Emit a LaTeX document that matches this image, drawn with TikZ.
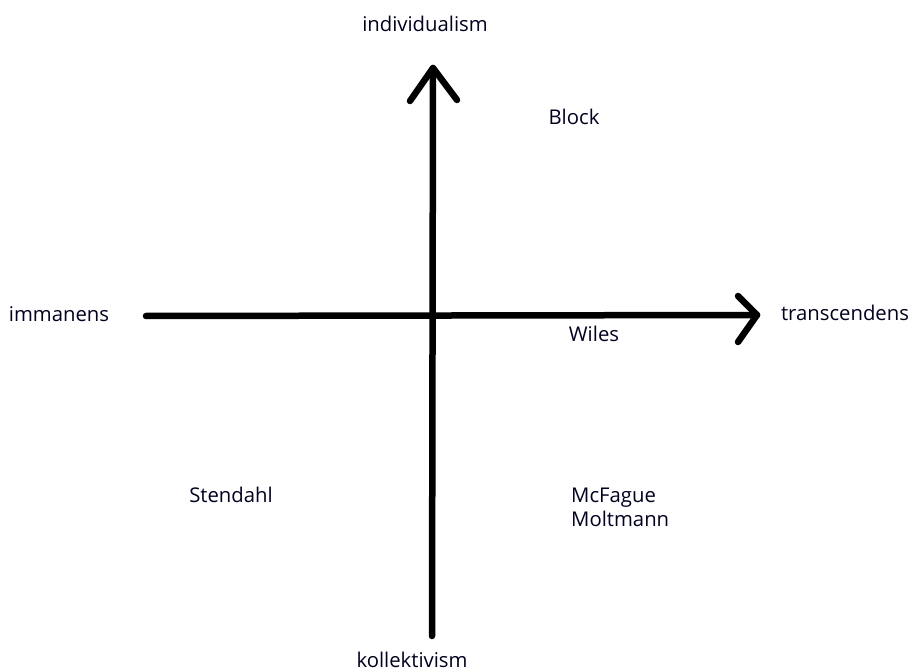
\documentclass[tikz,border=0pt]{standalone}
\usepackage{fontspec}
\setmainfont{Open Sans}
\begin{document}
\begin{tikzpicture}[x=1pt,y=-1pt,
  axis/.style={line width=6.5pt,line cap=round,line join=round,black},
  lbl/.style={font=\fontsize{20.3}{25}\selectfont,text=black!88!blue,inner sep=0pt,anchor=base}]
\useasboundingbox[fill=white] (0,0) rectangle (908,671);
% axes
\coordinate (vtop) at (433,68);
\coordinate (vbot) at (432,636);
\coordinate (hleft) at (146,316);
\coordinate (hright) at (757,315);
\coordinate (vl) at (410,101);
\coordinate (vr) at (457,100);
\coordinate (hu) at (738,296);
\coordinate (hd) at (738,342);
\draw[axis] (vbot) -- (vtop);
\draw[axis] (vl) -- (vtop) -- (vr);
\draw[axis] (hleft) -- (hright);
\draw[axis] (hu) -- (hright) -- (hd);
% labels
\node[lbl] (ind) at (425,32) {individualism};
\node[lbl] (kol) at (412,667) {kollektivism};
\node[lbl] (imm) at (59,321) {immanens};
\node[lbl] (tra) at (845,320) {transcendens};
\node[lbl] (blo) at (574,125) {Block};
\node[lbl] (wil) at (594,341) {Wiles};
\node[lbl] (ste) at (231,502) {Stendahl};
\node[lbl,anchor=base west] (mcf) at (571,502) {McFague};
\node[lbl,anchor=base west] (mol) at (571,526) {Moltmann};
\end{tikzpicture}
\end{document}
